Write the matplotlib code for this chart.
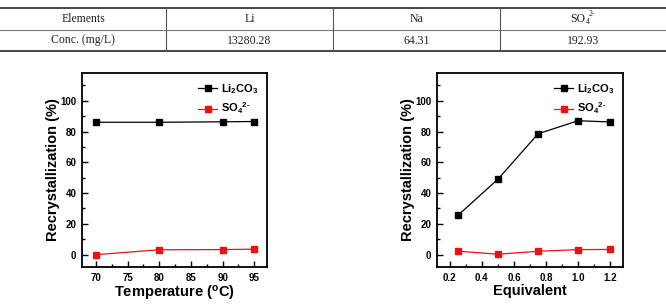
import matplotlib
matplotlib.use("Agg")
import matplotlib.pyplot as plt
from matplotlib.lines import Line2D
from matplotlib.ticker import MultipleLocator

# table data
table_header = ["Elements", "Li", "Na", "SO4"]
table_row = ["Conc. (mg/L)", "13280.28", "64.31", "192.93"]

# left panel: temperature
temp = [70, 80, 90, 95]
temp_li2co3 = [86.0, 86.0, 86.3, 86.5]
temp_so4 = [0.0, 3.2, 3.3, 3.6]

# right panel: equivalent
equiv = [0.25, 0.5, 0.75, 1.0, 1.2]
equiv_li2co3 = [25.5, 49.0, 78.5, 87.0, 86.2]
equiv_so4 = [2.3, 0.3, 2.2, 3.3, 3.4]

W, H = 666, 306
plt.rcParams["font.family"] = ["Liberation Sans", "DejaVu Sans"]
plt.rcParams["mathtext.fontset"] = "custom"
plt.rcParams["mathtext.rm"] = "Liberation Sans:bold"
plt.rcParams["mathtext.it"] = "Liberation Sans:bold"
plt.rcParams["mathtext.bf"] = "Liberation Sans:bold"
fig = plt.figure(figsize=(W / 100, H / 100), dpi=100)


def fx(px):
    return px / W


def fy(py):
    return 1 - py / H


# --- table ---
serif = ["Liberation Serif", "DejaVu Serif"]
fig.add_artist(Line2D([0, 1], [fy(7.5), fy(7.5)], color="#444444", lw=1.4))
fig.add_artist(Line2D([0, 1], [fy(29.5), fy(29.5)], color="#777777", lw=0.8))
fig.add_artist(Line2D([0, 1], [fy(51), fy(51)], color="#444444", lw=1.4))
col_edges = [0, 166, 333, 500, 666]
for xe in col_edges[1:-1]:
    fig.add_artist(Line2D([fx(xe), fx(xe)], [fy(7.5), fy(51)], color="#555555", lw=0.8))
for i in range(4):
    xc = fx((col_edges[i] + col_edges[i + 1]) / 2)
    lab = table_header[i]
    if lab == "SO4":
        fig.text(xc + fx(2), fy(19.5), "SO", ha="right", va="center",
                 fontsize=8.5, family=serif, color="#222222")
        fig.text(xc + fx(2.5), fy(22.5), "4", ha="left", va="center",
                 fontsize=5.5, family=serif, color="#222222")
        fig.text(xc + fx(6), fy(14.5), "2-", ha="left", va="center",
                 fontsize=5.5, family=serif, color="#222222")
    else:
        fig.text(xc, fy(19), lab, ha="center", va="center",
                 fontsize=8.5, family=serif, color="#222222")
    fig.text(xc, fy(40.5), table_row[i], ha="center", va="center",
             fontsize=8.5, family=serif, color="#222222")


def style_axes(ax):
    for s in ax.spines.values():
        s.set_linewidth(1.3)
    ax.tick_params(which="both", direction="in", labelsize=7, width=1.0, pad=4)
    ax.tick_params(which="major", length=4.5)
    ax.tick_params(which="minor", length=2.5)
    ax.set_ylim(-8, 118)
    ax.yaxis.set_major_locator(MultipleLocator(20))
    ax.yaxis.set_minor_locator(MultipleLocator(10))
    ax.set_yticks([0, 20, 40, 60, 80, 100])
    for lab in ax.get_xticklabels() + ax.get_yticklabels():
        lab.set_fontweight("bold")
    ax.set_ylabel("Recrystallization (%)", fontsize=10.5, fontweight="bold", labelpad=0)
    ax.legend(loc="upper right", frameon=False, handlelength=1.7,
              handletextpad=0.3, borderaxespad=0.4, labelspacing=0.45,
              prop={"weight": "bold", "size": 8})


so4_label = "SO$_4$$^{2\\text{-}}$"
li_label = "Li$_2$CO$_3$"

ax1 = fig.add_axes([fx(82), fy(267), fx(185), 194 / H])
ax1.plot(temp, temp_li2co3, color="black", marker="s", ms=4.5, lw=0.9, label=li_label)
ax1.plot(temp, temp_so4, color="#ee1111", marker="s", ms=4.5, lw=0.9, label=so4_label)
ax1.set_xlim(67.8, 97.0)
ax1.xaxis.set_major_locator(MultipleLocator(5))
ax1.xaxis.set_minor_locator(MultipleLocator(2.5))
ax1.set_xlabel("Temperature ($^{o}$C)", fontsize=10.5, fontweight="bold", labelpad=1)
style_axes(ax1)

ax2 = fig.add_axes([fx(437), fy(267), fx(186), 194 / H])
ax2.plot(equiv, equiv_li2co3, color="black", marker="s", ms=4.5, lw=0.9, label=li_label)
ax2.plot(equiv, equiv_so4, color="#ee1111", marker="s", ms=4.5, lw=0.9, label=so4_label)
ax2.set_xlim(0.12, 1.28)
ax2.xaxis.set_major_locator(MultipleLocator(0.2))
ax2.xaxis.set_minor_locator(MultipleLocator(0.1))
ax2.set_xlabel("Equivalent", fontsize=10.5, fontweight="bold", labelpad=1)
style_axes(ax2)

fig.savefig("out.png", dpi=100)
